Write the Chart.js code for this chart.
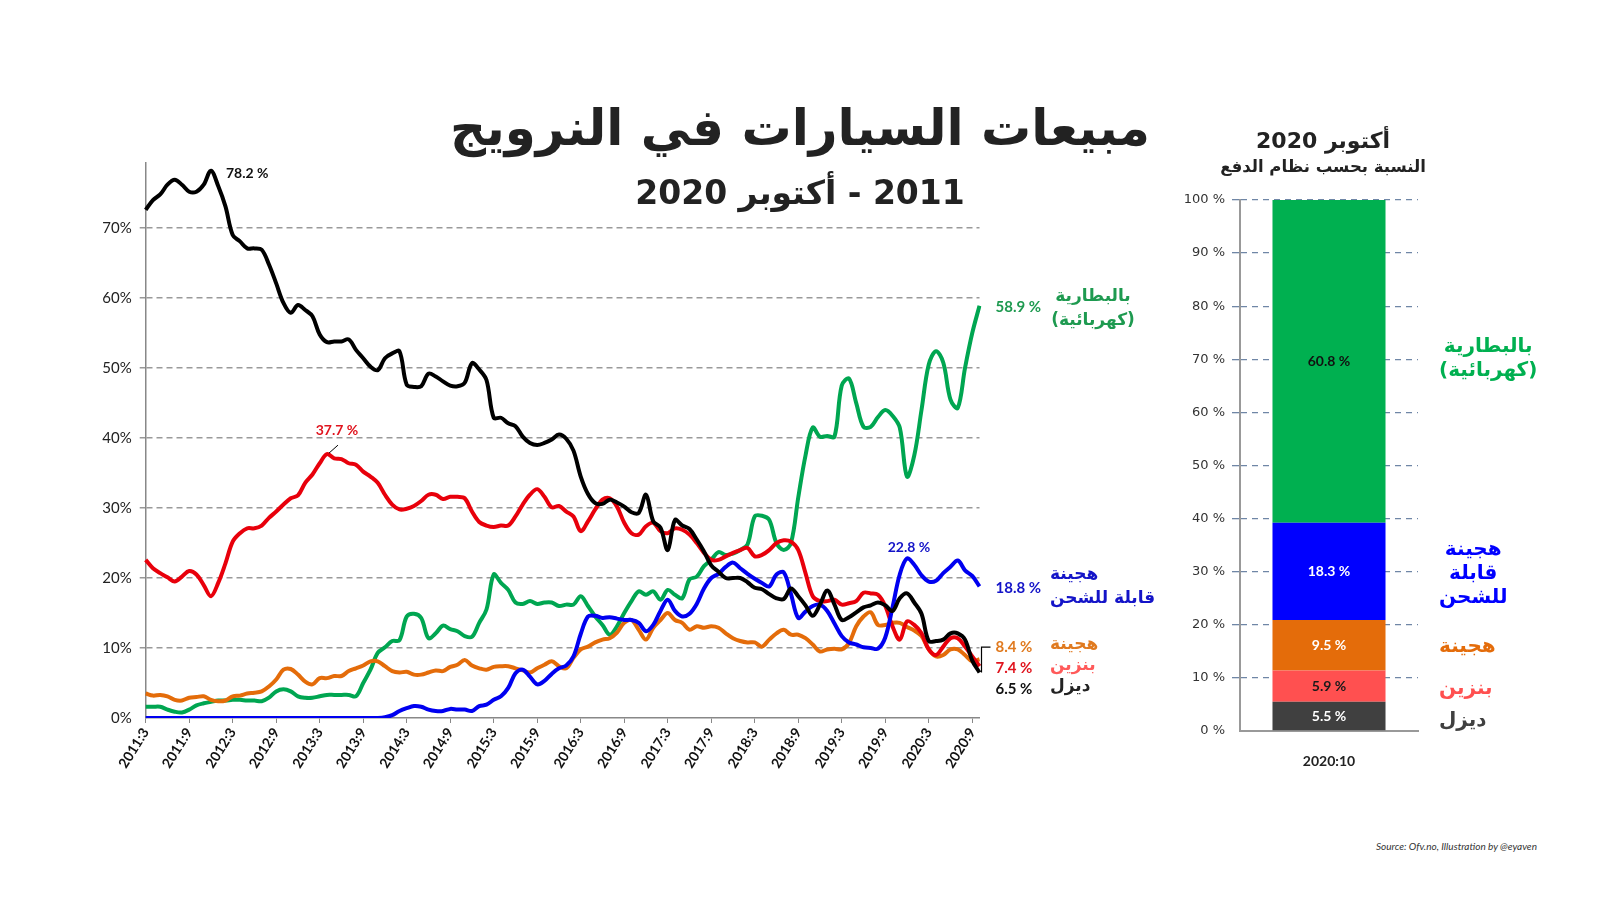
<!DOCTYPE html>
<html lang="ar">
<head>
<meta charset="utf-8">
<script src="https://cdn.jsdelivr.net/npm/chart.js@4.4.0/dist/chart.umd.min.js"></script>
<style>
    body { margin: 0; background: #fff; }
    .page { position: relative; width: 1600px; height: 900px; overflow: hidden; font-family: "DejaVu Sans", sans-serif; }
    .abs { position: absolute; white-space: nowrap; }
    .line-wrap { position: absolute; left: 0; top: 0; }
    .bar-wrap { position: absolute; left: 1150px; top: 150px; }
    .title { left: 300px; width: 1000px; top: 98px; text-align: center; font-size: 50px; line-height: 60px; font-weight: bold; color: #222; }
    .subtitle { left: 300px; width: 1000px; top: 171px; text-align: center; font-size: 33px; line-height: 44px; font-weight: bold; color: #222; }
    .lbl { direction: rtl; font-weight: bold; }
    .side { font-size: 17px; line-height: 24px; text-align: left; left: 1050px; }
    .share { font-size: 20px; line-height: 24px; text-align: center; left: 1439px; }
    .source { left: 1376px; top: 840px; font-family: Lato, sans-serif; font-style: italic; font-size: 10px; color: #333; }
</style>
</head>
<body>
<div class="page">
    <div class="line-wrap"><canvas id="lineChart" width="1080" height="800"></canvas></div>
    <div class="bar-wrap"><canvas id="barChart" width="300" height="650"></canvas></div>

    <div class="abs title" dir="rtl">مبيعات السيارات في النرويج</div>
    <div class="abs subtitle" dir="rtl">2011 - أكتوبر 2020</div>

    <!-- labels at the end of the lines -->
    <div class="abs lbl side" style="left:1093px; top:283px; transform:translateX(-50%); text-align:center; color:#1e9a50;">بالبطارية<br>(كهربائية)</div>
    <div class="abs lbl side" style="top:561px; color:#1414c8;">هجينة<br>قابلة للشحن</div>
    <div class="abs lbl side" style="top:633px; line-height:21px; color:#e07a1f;">هجينة</div>
    <div class="abs lbl side" style="top:654px; line-height:21px; color:#ff5a5a;">بنزين</div>
    <div class="abs lbl side" style="top:675px; line-height:21px; color:#222;">ديزل</div>

    <!-- bar panel -->
    <div class="abs lbl" style="left:1223px; width:200px; top:127px; text-align:center; font-size:22px; line-height:28px; color:#222;">أكتوبر 2020</div>
    <div class="abs lbl" style="left:1173px; width:300px; top:156px; text-align:center; font-size:16.5px; line-height:22px; color:#222;">النسبة بحسب نظام الدفع</div>

    <div class="abs lbl share" style="top:333px; color:#00b050;">بالبطارية<br>(كهربائية)</div>
    <div class="abs lbl share" style="top:536px; color:#0000ff;">هجينة<br>قابلة<br>للشحن</div>
    <div class="abs lbl share" style="top:633px; color:#e46c0a;">هجينة</div>
    <div class="abs lbl share" style="top:675px; color:#ff5050;">بنزين</div>
    <div class="abs lbl share" style="top:707px; color:#404040;">ديزل</div>

    <div class="abs source">Source: Ofv.no, Illustration by @eyaven</div>
</div>

<script>
// Data: monthly share of new car sales (%), 2011:3 .. 2020:10
const startYear = 2011;
const startMonth = 3;

const diesel = [72.6, 74.0, 74.8, 76.2, 76.9, 76.2, 75.2, 75.2, 76.2, 78.2, 76.0, 73.1,
    69.0, 68.1, 67.1, 67.1, 66.9, 64.8, 62.1, 59.3, 57.9, 59.0, 58.3, 57.4,
    54.8, 53.7, 53.8, 53.8, 54.1, 52.6, 51.4, 50.2, 49.7, 51.4, 52.1, 52.4,
    47.6, 47.3, 47.4, 49.2, 48.8, 48.1, 47.5, 47.4, 47.9, 50.7, 49.8, 48.3,
    42.9, 42.9, 42.1, 41.7, 40.2, 39.3, 39.0, 39.3, 39.8, 40.5, 39.9, 38.2,
    34.5, 32.0, 30.7, 30.6, 31.2, 30.8, 30.2, 29.4, 29.3, 31.9, 28.1, 27.2,
    24.0, 28.3, 27.5, 27.0, 25.5, 23.8, 21.8, 20.9, 20.0, 20.0, 20.0, 19.4,
    18.6, 18.4, 17.7, 17.1, 17.0, 18.5, 17.4, 16.1, 14.6, 16.2, 18.2, 16.2,
    14.0, 14.4, 15.1, 15.8, 16.1, 16.5, 16.1, 15.3, 17.1, 17.8, 16.5, 14.9,
    11.0, 11.0, 11.2, 12.1, 12.1, 11.2, 8.2, 6.5];

const petrol = [22.6, 21.4, 20.7, 20.1, 19.5, 20.2, 21.0, 20.5, 19.0, 17.4, 19.3, 22.1,
    25.2, 26.4, 27.1, 27.1, 27.5, 28.6, 29.5, 30.5, 31.4, 31.8, 33.6, 34.8,
    36.4, 37.7, 37.1, 37.0, 36.4, 36.2, 35.2, 34.5, 33.6, 31.9, 30.5, 29.8,
    29.9, 30.3, 31.0, 31.9, 31.9, 31.3, 31.6, 31.6, 31.4, 29.5, 28.0, 27.5,
    27.3, 27.5, 27.5, 28.8, 30.5, 31.9, 32.7, 31.6, 30.1, 30.3, 29.5, 28.8,
    26.7, 28.1, 29.8, 31.2, 31.4, 30.2, 27.9, 26.4, 26.2, 27.4, 27.9, 26.7,
    26.4, 27.1, 26.9, 26.2, 25.0, 23.6, 22.6, 22.6, 23.1, 23.6, 24.0, 24.3,
    23.1, 23.3, 24.0, 25.0, 25.4, 25.2, 24.0, 20.7, 17.4, 16.7, 16.7, 16.9,
    16.2, 16.4, 16.7, 17.9, 17.8, 17.6, 16.0, 13.1, 11.2, 13.8, 13.3, 12.1,
    9.8, 9.0, 10.2, 11.4, 11.4, 10.2, 8.8, 7.4];

const hybrid = [3.5, 3.2, 3.3, 3.1, 2.6, 2.5, 2.9, 3.0, 3.1, 2.6, 2.4, 2.5,
    3.1, 3.2, 3.5, 3.6, 3.8, 4.5, 5.5, 6.9, 7.0, 6.2, 5.2, 4.8,
    5.7, 5.7, 6.0, 6.0, 6.7, 7.1, 7.5, 8.1, 8.1, 7.4, 6.7, 6.5,
    6.6, 6.2, 6.2, 6.5, 6.8, 6.7, 7.3, 7.6, 8.3, 7.5, 7.1, 6.9,
    7.3, 7.4, 7.4, 7.1, 6.8, 6.5, 7.1, 7.6, 8.1, 7.4, 7.1, 8.6,
    9.8, 10.2, 10.8, 11.2, 11.4, 12.2, 13.6, 14.0, 12.6, 11.2, 12.9, 14.0,
    15.0, 14.0, 13.6, 12.6, 13.1, 12.9, 13.1, 12.9, 12.1, 11.4, 11.0, 10.8,
    10.8, 10.2, 11.2, 12.1, 12.6, 11.9, 11.9, 11.4, 10.5, 9.5, 9.8, 9.9,
    9.8, 10.7, 13.1, 14.5, 15.1, 13.3, 13.3, 13.6, 13.6, 13.0, 12.5, 11.7,
    9.8, 8.8, 9.0, 9.8, 9.8, 9.0, 8.1, 8.4];

const plugIn = [0, 0, 0, 0, 0, 0, 0, 0, 0, 0, 0, 0,
    0, 0, 0, 0, 0, 0, 0, 0, 0, 0, 0, 0,
    0, 0, 0, 0, 0, 0, 0, 0, 0, 0.1, 0.4, 1.0,
    1.4, 1.7, 1.6, 1.2, 1.0, 1.0, 1.3, 1.2, 1.2, 1.0, 1.7, 1.9,
    2.6, 3.1, 4.3, 6.4, 6.9, 5.9, 4.8, 5.3, 6.3, 7.1, 7.5, 8.8,
    12.0, 14.5, 14.6, 14.3, 14.4, 14.2, 14.0, 14.0, 13.6, 12.4, 13.3, 15.3,
    16.9, 15.3, 14.5, 14.9, 16.3, 18.5, 20.0, 20.6, 21.6, 22.2, 21.4, 20.6,
    19.9, 19.3, 18.8, 20.5, 20.8, 17.7, 14.3, 15.2, 16.0, 16.2, 15.3, 13.5,
    11.7, 10.8, 10.5, 10.1, 10.0, 9.9, 11.5, 15.8, 20.5, 22.8, 21.9, 20.4,
    19.5, 19.6, 20.7, 21.6, 22.5, 21.1, 20.3, 18.8];

const battery = [1.6, 1.6, 1.6, 1.2, 0.9, 0.8, 1.2, 1.8, 2.1, 2.3, 2.5, 2.5,
    2.6, 2.6, 2.5, 2.5, 2.4, 2.9, 3.8, 4.1, 3.8, 3.1, 2.9, 2.9,
    3.1, 3.3, 3.3, 3.3, 3.3, 3.1, 5.0, 6.9, 9.3, 10.1, 11.0, 11.1,
    14.5, 14.9, 14.3, 11.4, 12.1, 13.2, 12.7, 12.4, 11.7, 11.6, 13.6, 15.5,
    20.5, 19.3, 18.3, 16.5, 16.3, 16.7, 16.3, 16.5, 16.5, 16.0, 16.2, 16.2,
    17.4, 16.0, 14.5, 13.3, 11.9, 13.1, 15.0, 16.7, 18.1, 17.6, 18.1, 16.9,
    18.3, 17.6, 17.1, 19.8, 20.2, 21.7, 22.6, 23.7, 23.3, 23.5, 24.0, 24.8,
    28.8, 28.9, 28.3, 25.0, 24.0, 25.0, 31.5, 37.5, 41.5, 40.2, 40.3, 40.2,
    47.5, 48.5, 45.0, 41.6, 41.6, 43.0, 44.0, 43.2, 41.5, 34.5, 37.5, 44.0,
    50.5, 52.4, 50.8, 45.5, 44.3, 50.0, 55.0, 58.9];

// October 2020 split by powertrain (%)
const shareCategory = ['2020:10'];
const shareNames = ['ديزل', 'بنزين', 'هجينة', 'هجينة قابلة للشحن', 'بالبطارية (كهربائية)'];
const shareValues = [5.5, 5.9, 9.5, 18.3, 60.8];

const lineColors = { diesel: '#000000', petrol: '#e8000b', hybrid: '#e46c0a', plugIn: '#0000f0', battery: '#00a651' };
const shareColors = ['#404040', '#ff5050', '#e46c0a', '#0000ff', '#00b050'];
const shareTextColors = ['#ffffff', '#1a1a1a', '#ffffff', '#ffffff', '#111111'];

// Month labels
const months = [];
for (let k = 0; k < diesel.length; k++) {
    const m = startMonth - 1 + k;
    months.push((startYear + Math.floor(m / 12)) + ':' + (m % 12 + 1));
}

// Annotations on the line chart
const lineNotes = {
    id: 'lineNotes',
    afterDatasetsDraw(chart) {
        const ctx = chart.ctx;
        const x = chart.scales.x;
        const y = chart.scales.y;
        ctx.save();
        ctx.font = 'bold 14px Lato';
        ctx.textBaseline = 'middle';

        // peak labels
        const iD = diesel.indexOf(Math.max(...diesel));
        ctx.fillStyle = '#111';
        ctx.textAlign = 'left';
        ctx.fillText(diesel[iD].toFixed(1) + ' %', x.getPixelForValue(iD) + 15, y.getPixelForValue(diesel[iD]) + 3);

        const iP = petrol.indexOf(Math.max(...petrol));
        const px = x.getPixelForValue(iP);
        const py = y.getPixelForValue(petrol[iP]);
        ctx.fillStyle = '#e0141e';
        ctx.textAlign = 'center';
        ctx.fillText(petrol[iP].toFixed(1) + ' %', px + 10, py - 24);
        ctx.strokeStyle = '#000';
        ctx.lineWidth = 1;
        ctx.beginPath();
        ctx.moveTo(px + 2, py - 1);
        ctx.lineTo(px + 11, py - 9);
        ctx.stroke();

        const iH = plugIn.indexOf(Math.max(...plugIn));
        ctx.fillStyle = '#1414c8';
        ctx.fillText(plugIn[iH].toFixed(1) + ' %', x.getPixelForValue(iH) + 2, y.getPixelForValue(plugIn[iH]) - 11);

        // end labels
        const last = diesel.length - 1;
        const ex = x.right + 16;
        ctx.font = 'bold 15px Lato';
        ctx.textAlign = 'left';
        ctx.fillStyle = '#1e9a50';
        ctx.fillText(battery[last].toFixed(1) + ' %', ex, y.getPixelForValue(battery[last]) + 1);
        ctx.fillStyle = '#1414c8';
        ctx.fillText(plugIn[last].toFixed(1) + ' %', ex, y.getPixelForValue(plugIn[last]) + 2);
        const yHy = y.getPixelForValue(hybrid[last]) - 12;
        ctx.fillStyle = '#e07a1f';
        ctx.fillText(hybrid[last].toFixed(1) + ' %', ex, yHy);
        ctx.fillStyle = '#e0141e';
        ctx.fillText(petrol[last].toFixed(1) + ' %', ex, yHy + 21);
        ctx.fillStyle = '#111';
        ctx.fillText(diesel[last].toFixed(1) + ' %', ex, yHy + 42);

        ctx.strokeStyle = '#000';
        ctx.lineWidth = 1.2;
        ctx.beginPath();
        ctx.moveTo(x.right + 2, y.getPixelForValue(diesel[last]));
        ctx.lineTo(x.right + 2, yHy);
        ctx.lineTo(x.right + 11, yHy);
        ctx.stroke();
        ctx.restore();
    }
};

// Labels inside the stacked bar
const barLabels = {
    id: 'barLabels',
    afterDatasetsDraw(chart) {
        const ctx = chart.ctx;
        ctx.save();
        ctx.font = 'bold 14px Lato';
        ctx.textAlign = 'center';
        ctx.textBaseline = 'middle';
        chart.data.datasets.forEach((ds, i) => {
            const bar = chart.getDatasetMeta(i).data[0];
            const c = bar.getCenterPoint();
            ctx.fillStyle = shareTextColors[i];
            ctx.fillText(ds.data[0].toFixed(1) + ' %', c.x, c.y);
        });
        ctx.restore();
    }
};

function lineSet(data, color) {
    return {
        data: data,
        borderColor: color,
        borderWidth: 4,
        pointRadius: 0,
        tension: 0.35,
        fill: false
    };
}

function renderLineChart() {
    new Chart(document.getElementById('lineChart'), {
        type: 'line',
        data: {
            labels: months,
            datasets: [
                lineSet(diesel, lineColors.diesel),
                lineSet(plugIn, lineColors.plugIn),
                lineSet(petrol, lineColors.petrol),
                lineSet(hybrid, lineColors.hybrid),
                lineSet(battery, lineColors.battery)
            ]
        },
        options: {
            responsive: false,
            animation: false,
            events: [],
            layout: { padding: { left: 85.7, right: 100.5, top: 163, bottom: 22 } },
            plugins: { legend: { display: false }, tooltip: { enabled: false } },
            scales: {
                x: {
                    afterFit: (scale) => { scale.height = 60; },
                    grid: {
                        drawOnChartArea: false,
                        drawTicks: true,
                        tickLength: 5,
                        color: (c) => (c.index % 6 === 0 ? '#888' : 'rgba(0,0,0,0)')
                    },
                    border: { color: '#888', width: 1.5 },
                    ticks: {
                        autoSkip: false,
                        minRotation: 58,
                        maxRotation: 58,
                        padding: 2,
                        color: '#111',
                        font: { family: 'Lato', size: 14, weight: 'bold' },
                        callback: function (v, i) { return i % 6 === 0 ? months[i] : ''; }
                    }
                },
                y: {
                    min: 0,
                    max: 79.3,
                    afterFit: (scale) => { scale.width = 60; },
                    grid: {
                        color: (c) => (c.tick.value > 0 && c.tick.value % 10 === 0 ? '#999' : 'rgba(0,0,0,0)'),
                        lineWidth: 1.5,
                        tickLength: 6
                    },
                    border: { color: '#888', width: 1.5, dash: [6, 4] },
                    ticks: {
                        stepSize: 10,
                        padding: 8,
                        color: '#222',
                        font: { family: 'Lato', size: 15 },
                        callback: (v) => (v % 10 === 0 ? v + '%' : '')
                    }
                }
            }
        },
        plugins: [lineNotes]
    });
}

function renderBarChart() {
    new Chart(document.getElementById('barChart'), {
        type: 'bar',
        data: {
            labels: shareCategory,
            datasets: shareValues.map((v, i) => ({
                label: shareNames[i],
                data: [v],
                backgroundColor: shareColors[i],
                borderWidth: 0,
                categoryPercentage: 1,
                barPercentage: 0.635
            }))
        },
        options: {
            responsive: false,
            animation: false,
            events: [],
            layout: { padding: { left: 30, right: 32, top: 50, bottom: 29 } },
            plugins: { legend: { display: false }, tooltip: { enabled: false } },
            scales: {
                x: {
                    stacked: true,
                    afterFit: (scale) => { scale.height = 40; },
                    grid: { display: false },
                    border: { color: '#999', width: 2 },
                    ticks: { padding: 14, color: '#222', font: { family: 'Lato', size: 14, weight: 'bold' } }
                },
                y: {
                    stacked: true,
                    min: 0,
                    max: 100,
                    afterFit: (scale) => { scale.width = 60; },
                    grid: {
                        color: (c) => (c.tick.value === 0 ? 'rgba(0,0,0,0)' : '#6f86a6'),
                        lineWidth: 1.3,
                        tickLength: 8
                    },
                    border: { color: '#999', width: 2, dash: [6, 5] },
                    ticks: {
                        stepSize: 10,
                        padding: 7,
                        color: '#333',
                        font: { family: 'DejaVu Sans', size: 13 },
                        callback: (v) => v + ' %'
                    }
                }
            }
        },
        plugins: [barLabels]
    });
}

renderLineChart();
renderBarChart();
</script>
</body>
</html>
